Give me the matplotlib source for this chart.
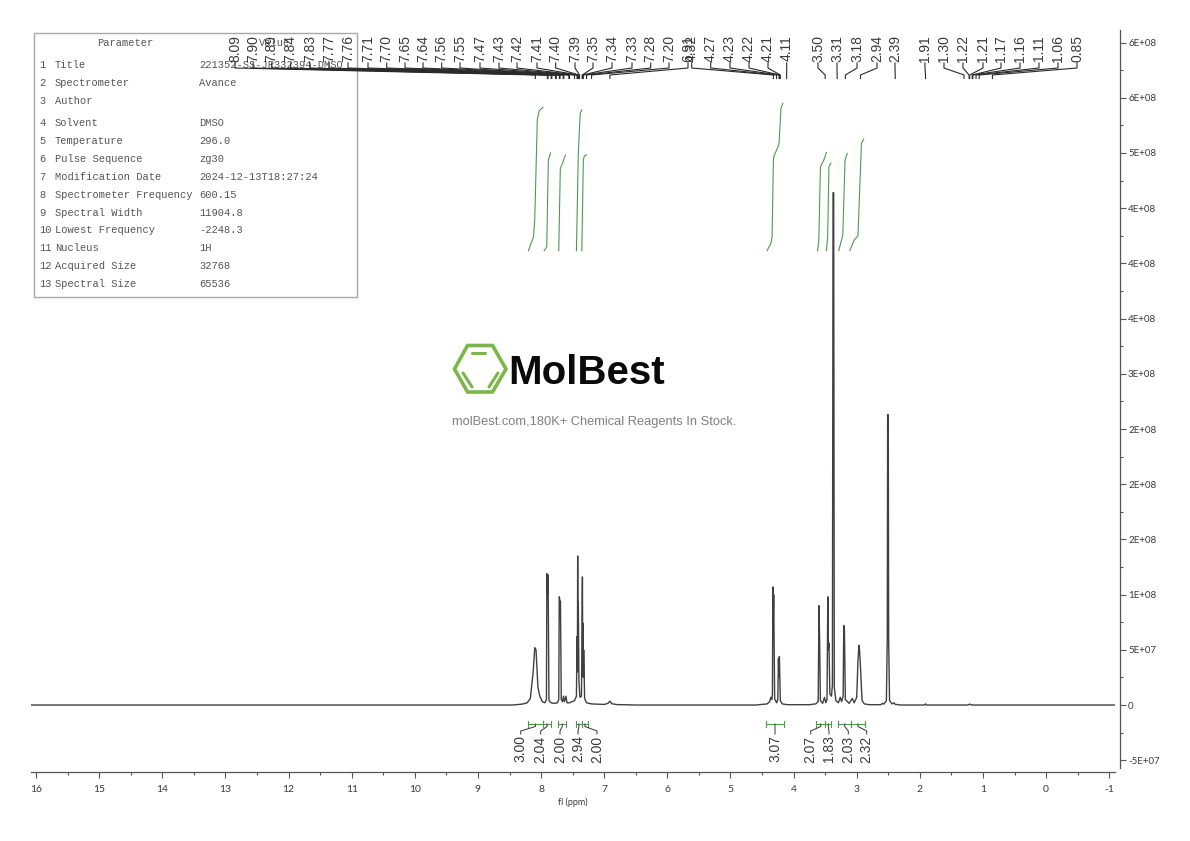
import matplotlib
matplotlib.use('Agg')
import numpy as np
import matplotlib.pyplot as plt
from matplotlib.transforms import Affine2D
from matplotlib.patches import Rectangle, Polygon

W, H = 1190, 841

# spectrum, ppm and intensity in 1e6
spec_ppm = [16.08, 8.45, 8.3, 8.22, 8.17, 8.125, 8.10, 8.08, 8.05, 8.02, 7.98, 7.94, 7.915, 7.908, 7.902, 7.898, 7.893, 7.887, 7.875,
            7.84, 7.8, 7.74, 7.72, 7.712, 7.705, 7.70, 7.693, 7.68, 7.66, 7.645, 7.63, 7.605, 7.59, 7.55, 7.47, 7.44,
            7.43, 7.425, 7.42, 7.415, 7.41, 7.40, 7.385, 7.36, 7.345, 7.34, 7.335, 7.33, 7.325, 7.31, 7.28,
            7.2, 7.0, 6.94, 6.91, 6.88, 6.8, 6.5, 4.6, 4.42, 4.38, 4.36, 4.345, 4.335, 4.328, 4.322, 4.315,
            4.30, 4.27, 4.25, 4.24, 4.232, 4.225, 4.21, 4.18, 4.1, 3.75, 3.65, 3.61, 3.598, 3.588, 3.575,
            3.54, 3.51, 3.49, 3.47, 3.458, 3.45, 3.44, 3.425, 3.40, 3.385, 3.375, 3.365, 3.355, 3.33, 3.29, 3.26,
            3.24, 3.215, 3.205, 3.195, 3.18, 3.12, 3.07, 3.04, 3.0, 2.98, 2.965, 2.955, 2.94, 2.915, 2.88, 2.8, 2.62,
            2.59, 2.57, 2.53, 2.516, 2.51, 2.50, 2.494, 2.48, 2.44, 2.41, 2.39, 2.3, 1.93, 1.91, 1.89, 1.24, 1.21, 1.18,
            1.0, -1.08]
spec_int = [0, 0, 0.8, 2, 6, 30, 52, 50, 16, 8, 3, 2, 5, 119, 105, 100, 118, 100, 4,
            2, 1.5, 2, 5, 98, 96, 90, 94, 5, 3, 8, 3, 8, 2, 2, 4, 8,
            62, 30, 135, 40, 93, 22, 7, 8, 116, 30, 74, 25, 50, 6, 2,
            1, 0.5, 1.5, 3.5, 1.2, 0.4, 0, 0, 1, 3, 7, 5, 10, 107, 70, 100,
            6, 2, 5, 42, 25, 44, 4, 1, 0.3, 0.3, 1, 3, 90, 60, 4,
            1.5, 7, 2, 5, 98, 50, 56, 10, 8, 18, 464, 464, 16, 4, 2, 7,
            3, 8, 72, 68, 5, 1.5, 6, 2, 7, 40, 54, 50, 34, 4, 1, 0.3, 0.3,
            1.5, 0.8, 4, 60, 263, 263, 60, 4, 1, 2, 0.6, 0, 0, 1, 0, 0, 0.8, 0,
            0, 0]

# integral curves
int_ppm = [
    [8.20, 8.12, 8.10, 8.06, 8.03, 7.97],
    [7.95, 7.91, 7.885, 7.85],
    [7.72, 7.695, 7.66, 7.615],
    [7.44, 7.41, 7.38, 7.355],
    [7.355, 7.33, 7.315, 7.28],
    [4.42, 4.36, 4.34, 4.32, 4.31, 4.25, 4.23, 4.20, 4.17],
    [3.62, 3.60, 3.575, 3.52, 3.48],
    [3.48, 3.46, 3.44, 3.41],
    [3.285, 3.22, 3.185, 3.15],
    [3.11, 3.04, 2.98, 2.925, 2.89],
]
int_val = [
    [411.5, 424.2, 439.3, 530, 538.3, 541.4],
    [411.5, 415.1, 493.7, 500],
    [411.5, 486.1, 490.7, 498.2],
    [411.5, 500, 536, 539],
    [411.5, 493.7, 497.3, 498.2],
    [411.5, 418.2, 424.2, 493.7, 497.3, 505.2, 508.8, 540.5, 545],
    [411.5, 421.2, 487.6, 493.7, 500.6],
    [411.5, 424.2, 487.6, 490.7],
    [411.5, 425.7, 493.7, 499.7],
    [411.5, 421.2, 424.8, 508.8, 512.4],
]

# integral ranges and values
range_start = [8.21, 7.97, 7.73, 7.45, 7.35, 4.44, 3.64, 3.50, 3.29, 3.09]
range_end = [7.97, 7.84, 7.60, 7.35, 7.26, 4.15, 3.50, 3.40, 3.09, 2.87]
range_labels = ['3.00', '2.04', '2.00', '2.94', '2.00', '3.07', '2.07', '1.83', '2.03', '2.32']

# peak labels
peak_labels = ['8.09', '7.90', '7.89', '7.84', '7.83', '7.77', '7.76', '7.71', '7.70', '7.65', '7.64', '7.56',
               '7.55', '7.47', '7.43', '7.42', '7.41', '7.40', '7.39', '7.35', '7.34', '7.33', '7.28', '7.20',
               '6.91', '4.32', '4.27', '4.23', '4.22', '4.21', '4.11', '3.50', '3.31', '3.18', '2.94', '2.39',
               '1.91', '1.30', '1.22', '1.21', '1.17', '1.16', '1.11', '1.06', '0.85']

# axis labels
y_ticks = [-5e7, 0, 5e7, 1e8, 1.5e8, 2e8, 2.5e8, 3e8, 3.5e8, 4e8, 4.5e8, 5e8, 5.5e8, 6e8]
y_tick_labels = ['-5E+07', '0', '5E+07', '1E+08', '2E+08', '2E+08', '2E+08', '3E+08', '4E+08', '4E+08', '4E+08',
                 '5E+08', '6E+08', '6E+08']
x_ticks = list(range(16, -2, -1))

# parameter table
table_nums = ['1', '2', '3', '4', '5', '6', '7', '8', '9', '10', '11', '12', '13']
table_names = ['Title', 'Spectrometer', 'Author', 'Solvent', 'Temperature', 'Pulse Sequence', 'Modification Date',
               'Spectrometer Frequency', 'Spectral Width', 'Lowest Frequency', 'Nucleus', 'Acquired Size',
               'Spectral Size']
table_values = ['221352-SS-JR332394-DMSO', 'Avance', '', 'DMSO', '296.0', 'zg30', '2024-12-13T18:27:24', '600.15',
                '11904.8', '-2248.3', '1H', '32768', '65536']

# layout in image pixels
peak_label_x = [235, 253, 271.7, 290.7, 310, 329, 348, 368, 386.7, 405, 423, 441.7, 460, 480, 499, 517, 537, 555.7,
                575, 593, 612, 632, 650.7, 669, 688, 691.7, 710.7, 730, 749, 768, 786.7, 818, 837, 857, 877, 895,
                925, 944, 963, 983, 1001, 1020, 1039, 1058, 1077]
range_label_x = [520.7, 540.7, 560, 578, 597, 775, 810.7, 829, 848.3, 866.7]
table_rows_y = [65, 83, 101, 123, 141, 159, 177, 195, 212.5, 230, 248, 266, 284]

LINE = '#555555'
GREEN = '#4f9a4f'
TEXT = '#3a3a3a'
TICK_FONT = 'Lato'

fig = plt.figure(figsize=(W / 100, H / 100), dpi=100)
ax = fig.add_axes([31 / W, 1 - 771.7 / H, (1119.7 - 31) / W, (771.7 - 30) / H])
ax.set_xlim(16.08, -1.166)
ax.set_ylim(-6.04e7, 6.114e8)

# pixel coordinates with the origin top left, same as the image
px = Affine2D().scale(1, -1).translate(0, H)

ax.plot(spec_ppm, np.array(spec_int) * 1e6, color='#404040', lw=1.0, zorder=3)

for xs, ys in zip(int_ppm, int_val):
    ax.plot(xs, np.array(ys) * 1e6, color=GREEN, lw=0.8, zorder=3)

for sp in ['left', 'top']:
    ax.spines[sp].set_visible(False)
for sp in ['bottom', 'right']:
    ax.spines[sp].set_color(LINE)
    ax.spines[sp].set_linewidth(0.9)
ax.spines['bottom'].set_bounds(16.08, -1.09)
ax.spines['right'].set_bounds(-5.7e7, 6.114e8)

ax.yaxis.tick_right()
ax.set_xticks(x_ticks)
ax.set_xticklabels([str(t) for t in x_ticks], family=TICK_FONT, fontsize=7.5, color=TEXT)
ax.set_xticks(np.array(x_ticks[:-1]) - 0.5, minor=True)
ax.set_yticks(y_ticks)
ax.set_yticklabels(y_tick_labels, family=TICK_FONT, fontsize=7, color=TEXT)
ax.set_yticks(np.array(y_ticks[:-1]) + 2.5e7, minor=True)
ax.tick_params(which='major', length=4.5, width=0.8, color=LINE, pad=1.5)
ax.tick_params(which='minor', length=2.2, width=0.8, color=LINE)
ax.tick_params(axis='x', which='major', pad=5)
fig.text(573 / W, 1 - 802 / H, 'fl (ppm)', family=TICK_FONT, fontsize=6.5, color=TEXT, ha='center', va='center')


def to_px(ppm):
    return ax.transData.transform((float(ppm), 0))[0]


# parameter table
ax.add_patch(Rectangle((33.5, 32.5), 323, 264.5, transform=px, fc='white', ec='#a8a8a8', lw=1, clip_on=False, zorder=1))
mono = dict(family='Liberation Mono', fontsize=7.5, color='#555555', va='center', transform=px, zorder=2)
ax.text(125, 43, 'Parameter', ha='center', **mono)
ax.text(275, 43, 'Value', ha='center', **mono)
for num, name, val, y in zip(table_nums, table_names, table_values, table_rows_y):
    ax.text(39, y, num, **mono)
    ax.text(55, y, name, **mono)
    ax.text(199, y, val, **mono)

# peak labels and their connectors
for lab, lx in zip(peak_labels, peak_label_x):
    tx = to_px(lab)
    ax.plot([lx, lx, tx, tx], [63, 68, 75, 78.5], transform=px, color='#2a2a2a', lw=0.8, clip_on=False, zorder=4)
    ax.text(lx, 48.5, lab, rotation=90, transform=px, family='Liberation Sans', fontsize=10, color=TEXT,
            ha='center', va='center', zorder=5)

# integral brackets and their labels
for a, b, lab, lx in zip(range_start, range_end, range_labels, range_label_x):
    xa, xb = to_px(a), to_px(b)
    ax.plot([xa, xb], [724, 724], transform=px, color=GREEN, lw=0.8, clip_on=False, zorder=3)
    for xe in (xa, xb):
        ax.plot([xe, xe], [721, 727], transform=px, color=GREEN, lw=0.8, clip_on=False, zorder=3)
    mid = (xa + xb) / 2
    ax.plot([mid, mid, lx, lx], [724, 726.5, 731, 734], transform=px, color='#333333', lw=0.7, clip_on=False, zorder=4)
    ax.text(lx, 749, lab, rotation=90, transform=px, family='Liberation Sans', fontsize=10, color=TEXT,
            ha='center', va='center', zorder=5)

# watermark
hexagon = [(454.5, 369), (467.5, 345.5), (492.5, 345.5), (506, 369), (492.5, 392), (467.5, 392)]
ax.add_patch(Polygon(hexagon, closed=True, transform=px, fc='none', ec='#7ab648', lw=2.6, zorder=2))
for bar_x, bar_y in [((472, 485), (352.7, 352.7)), ((463, 472), (373, 387)), ((498, 489), (373, 387))]:
    ax.plot(bar_x, bar_y, transform=px, color='#7ab648', lw=2.2, solid_capstyle='round', zorder=2)
ax.text(586.5, 373.5, 'MolBest', transform=px, family='Liberation Sans', fontweight='bold', fontsize=29,
        color='#0a0a0a', ha='center', va='center', zorder=2)
ax.text(594, 421.5, 'molBest.com,180K+ Chemical Reagents In Stock.', transform=px, family='Liberation Sans',
        fontsize=9.3, color='#808080', ha='center', va='center', zorder=2)

fig.savefig('out.png', dpi=100)
